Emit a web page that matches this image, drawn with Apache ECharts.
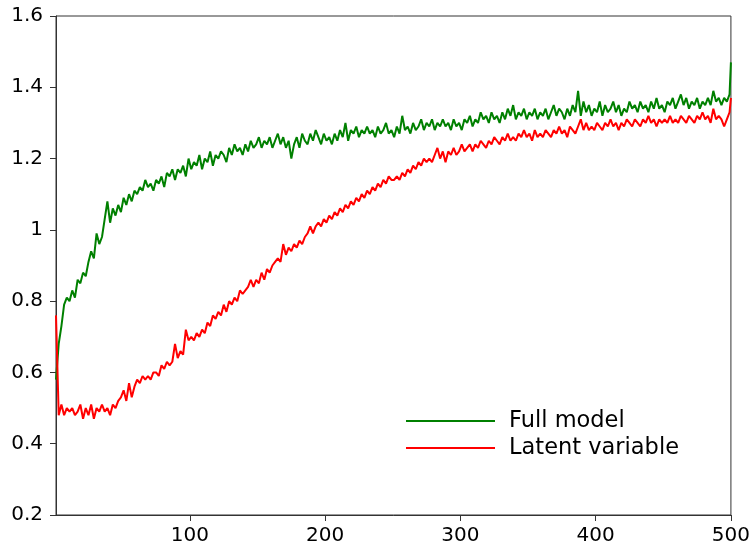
<!DOCTYPE html>
<html>
<head>
<meta charset="utf-8">
<script src="https://cdn.jsdelivr.net/npm/echarts@6/dist/echarts.min.js"></script>
<style>html,body{margin:0;padding:0;background:#fff}#c{width:753px;height:546px}</style>
</head>
<body>
<div id="c"></div>
<script>
// x positions: 1,3,5,...,499 then 500
const xTicks = [100, 200, 300, 400, 500];
const yTicks = [0.2, 0.4, 0.6, 0.8, 1.0, 1.2, 1.4, 1.6];
const seriesNames = ['Full model', 'Latent variable'];

const fullModel = [
0.58,0.68,0.73,0.79,0.81,0.80,0.83,0.81,0.86,0.85,
0.88,0.87,0.91,0.94,0.92,0.99,0.96,0.98,1.03,1.08,
1.02,1.06,1.04,1.07,1.05,1.09,1.07,1.10,1.08,1.11,
1.10,1.12,1.11,1.14,1.12,1.13,1.11,1.14,1.13,1.15,
1.12,1.16,1.15,1.17,1.14,1.17,1.16,1.18,1.15,1.20,
1.17,1.19,1.18,1.21,1.17,1.20,1.19,1.22,1.18,1.21,
1.20,1.22,1.21,1.19,1.23,1.21,1.24,1.22,1.23,1.21,
1.24,1.22,1.25,1.23,1.24,1.26,1.23,1.25,1.24,1.26,
1.23,1.25,1.27,1.24,1.26,1.23,1.25,1.20,1.24,1.26,
1.23,1.27,1.25,1.24,1.27,1.25,1.28,1.26,1.24,1.27,
1.25,1.26,1.24,1.27,1.25,1.28,1.26,1.30,1.25,1.28,
1.27,1.29,1.26,1.28,1.27,1.29,1.27,1.28,1.26,1.29,
1.27,1.28,1.30,1.27,1.28,1.26,1.29,1.27,1.32,1.28,
1.29,1.27,1.30,1.28,1.29,1.31,1.28,1.30,1.29,1.31,
1.28,1.30,1.29,1.31,1.29,1.30,1.28,1.31,1.29,1.30,
1.28,1.31,1.30,1.32,1.29,1.31,1.30,1.33,1.31,1.32,
1.30,1.33,1.31,1.32,1.30,1.33,1.31,1.34,1.32,1.35,
1.31,1.33,1.32,1.34,1.31,1.33,1.32,1.34,1.31,1.33,
1.32,1.34,1.31,1.33,1.35,1.32,1.34,1.33,1.31,1.34,
1.32,1.35,1.33,1.39,1.32,1.36,1.33,1.35,1.32,1.34,
1.33,1.36,1.32,1.35,1.33,1.34,1.36,1.33,1.35,1.32,
1.34,1.33,1.36,1.34,1.35,1.33,1.36,1.34,1.35,1.33,
1.36,1.34,1.37,1.34,1.35,1.33,1.36,1.35,1.37,1.34,
1.36,1.38,1.35,1.37,1.34,1.36,1.35,1.37,1.34,1.36,
1.35,1.37,1.35,1.39,1.36,1.37,1.35,1.37,1.36,1.38,
1.47
];

const latentVariable = [
0.76,0.48,0.51,0.48,0.50,0.49,0.50,0.48,0.49,0.51,
0.47,0.50,0.48,0.51,0.47,0.50,0.49,0.51,0.49,0.50,
0.48,0.51,0.50,0.52,0.53,0.55,0.52,0.57,0.53,0.56,
0.58,0.57,0.59,0.58,0.59,0.58,0.60,0.60,0.59,0.62,
0.61,0.63,0.62,0.63,0.68,0.64,0.66,0.65,0.72,0.69,
0.70,0.69,0.71,0.70,0.72,0.71,0.74,0.73,0.76,0.75,
0.77,0.76,0.79,0.77,0.80,0.79,0.81,0.80,0.83,0.82,
0.83,0.84,0.86,0.84,0.86,0.85,0.88,0.86,0.89,0.88,
0.90,0.91,0.92,0.91,0.96,0.93,0.95,0.94,0.96,0.95,
0.97,0.96,0.98,0.99,1.01,0.99,1.01,1.02,1.01,1.03,
1.02,1.04,1.03,1.05,1.04,1.06,1.05,1.07,1.06,1.08,
1.07,1.09,1.08,1.10,1.09,1.11,1.10,1.12,1.11,1.13,
1.12,1.14,1.13,1.15,1.14,1.14,1.15,1.14,1.16,1.15,
1.17,1.16,1.18,1.17,1.19,1.18,1.20,1.19,1.20,1.19,
1.21,1.23,1.20,1.22,1.19,1.22,1.21,1.23,1.21,1.22,
1.24,1.22,1.23,1.24,1.22,1.24,1.23,1.25,1.24,1.23,
1.25,1.24,1.26,1.25,1.24,1.26,1.25,1.27,1.25,1.26,
1.25,1.27,1.26,1.28,1.26,1.27,1.25,1.28,1.26,1.27,
1.26,1.28,1.27,1.26,1.28,1.27,1.29,1.27,1.28,1.26,
1.29,1.28,1.27,1.29,1.31,1.28,1.30,1.28,1.29,1.28,
1.30,1.29,1.28,1.30,1.29,1.31,1.29,1.30,1.28,1.30,
1.29,1.31,1.30,1.29,1.31,1.30,1.29,1.31,1.30,1.32,
1.30,1.31,1.29,1.31,1.30,1.31,1.30,1.32,1.30,1.31,
1.30,1.32,1.31,1.30,1.32,1.31,1.30,1.32,1.31,1.33,
1.31,1.32,1.30,1.34,1.31,1.32,1.31,1.29,1.31,1.33,
1.37
];

function toPairs(arr) {
  return arr.map((v, i) => [Math.min(1 + 2 * i, 500), v]);
}

const FONT = 'DejaVu Sans';
const chart = echarts.init(document.getElementById('c'), null, {renderer: 'canvas'});
chart.setOption({
  animation: false,
  backgroundColor: '#fff',
  grid: {left: 56, right: 18, top: 16, bottom: 30, show: true, borderColor: '#333', borderWidth: 1},
  legend: {
    orient: 'vertical', left: 406, top: 409, itemGap: 3, padding: 0,
    icon: 'rect', itemWidth: 89, itemHeight: 2,
    data: seriesNames,
    textStyle: {fontFamily: FONT, fontSize: 22.5, color: '#000', lineHeight: 24, padding: [0, 0, 0, 9]}
  },
  xAxis: {
    type: 'value', min: 1, max: 500,
    axisLine: {show: true, lineStyle: {color: '#333', width: 1}},
    axisTick: {show: true, length: 6, lineStyle: {color: '#333'}, customValues: xTicks},
    axisLabel: {fontFamily: FONT, fontSize: 20, color: '#000', margin: 11, customValues: xTicks},
    splitLine: {show: false}
  },
  yAxis: {
    type: 'value', min: 0.2, max: 1.6, interval: 0.2,
    axisLine: {show: true, lineStyle: {color: '#333', width: 1}},
    axisTick: {show: true, length: 6, lineStyle: {color: '#333'}, customValues: yTicks},
    axisLabel: {fontFamily: FONT, fontSize: 20, color: '#000', margin: 13, customValues: yTicks,
      formatter: v => String(Math.round(v * 10) / 10)},
    splitLine: {show: false}
  },
  series: [
    {name: seriesNames[0], type: 'line', data: toPairs(fullModel), showSymbol: false,
      lineStyle: {color: '#008000', width: 2}, itemStyle: {color: '#008000'}},
    {name: seriesNames[1], type: 'line', data: toPairs(latentVariable), showSymbol: false,
      lineStyle: {color: '#ff0000', width: 2}, itemStyle: {color: '#ff0000'}}
  ]
});
</script>
</body>
</html>
